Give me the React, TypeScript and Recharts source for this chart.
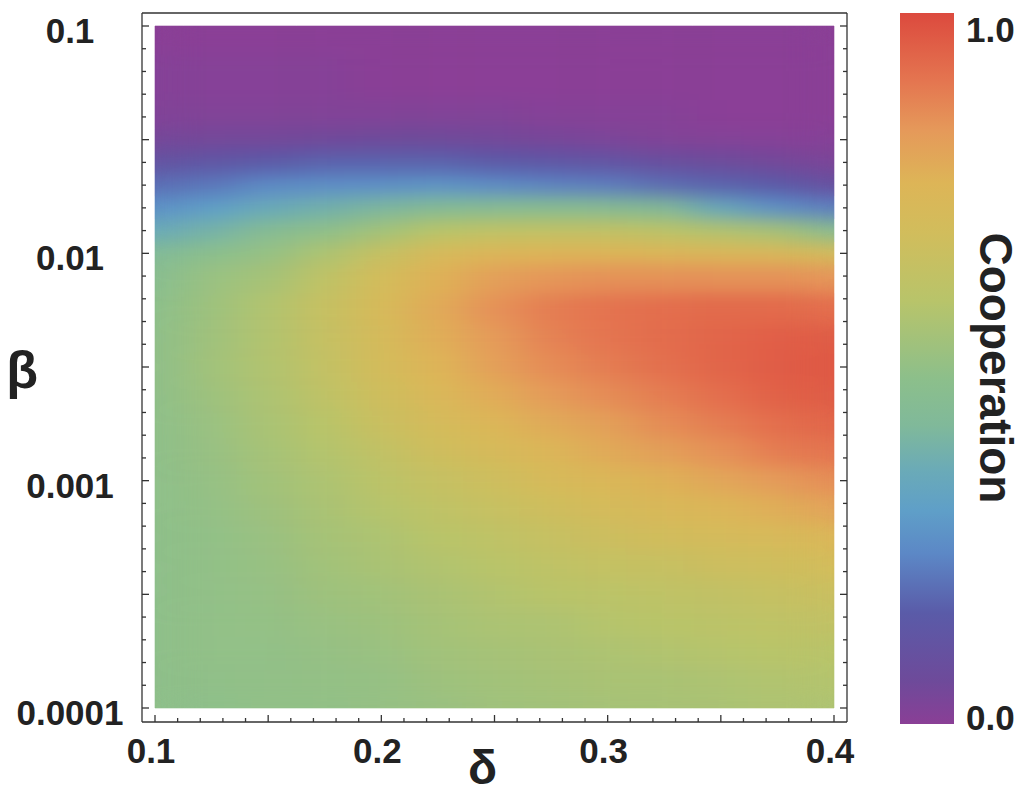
import React from "react";
import { ScatterChart, XAxis, YAxis, ReferenceArea } from "recharts";

// delta (x) grid and log10(beta) (y) grid the values were read at
const deltaCols = [0.1, 0.125, 0.15, 0.175, 0.2, 0.225, 0.25, 0.275, 0.3, 0.325, 0.35, 0.375, 0.4];
const logBetaRows = [
  -1, -1.25, -1.4, -1.5, -1.6, -1.7, -1.8, -1.9, -2, -2.1, -2.25, -2.375, -2.5, -2.625, -2.75,
  -2.875, -3, -3.125, -3.25, -3.375, -3.5, -3.625, -3.75, -3.875, -4,
];

// cooperation level, one array per beta row (top to bottom)
const coopB1000 = [0, 0, 0, 0, 0, 0, 0, 0, 0, 0, 0, 0, 0];
const coopB1250 = [0.01, 0.01, 0.01, 0.01, 0, 0, 0, 0, 0, 0, 0, 0, 0];
const coopB1400 = [0.02, 0.02, 0.02, 0.02, 0.02, 0.02, 0.02, 0.01, 0.01, 0.01, 0, 0, 0];
const coopB1500 = [0.045, 0.047, 0.05, 0.055, 0.06, 0.06, 0.05, 0.04, 0.03, 0.02, 0.015, 0.01, 0.01];
const coopB1600 = [0.11, 0.13, 0.15, 0.17, 0.17, 0.17, 0.15, 0.135, 0.12, 0.09, 0.07, 0.05, 0.03];
const coopB1700 = [0.19, 0.21, 0.245, 0.255, 0.26, 0.27, 0.25, 0.23, 0.22, 0.19, 0.17, 0.15, 0.09];
const coopB1800 = [0.26, 0.3, 0.35, 0.38, 0.41, 0.44, 0.45, 0.46, 0.45, 0.43, 0.34, 0.26, 0.22];
const coopB1900 = [0.35, 0.39, 0.45, 0.49, 0.54, 0.6, 0.62, 0.63, 0.63, 0.61, 0.58, 0.55, 0.45];
const coopB2000 = [0.43, 0.48, 0.51, 0.57, 0.65, 0.72, 0.75, 0.76, 0.76, 0.75, 0.74, 0.73, 0.7];
const coopB2100 = [0.46, 0.52, 0.55, 0.62, 0.7, 0.77, 0.82, 0.84, 0.85, 0.85, 0.85, 0.85, 0.84];
const coopB2250 = [0.48, 0.53, 0.58, 0.65, 0.72, 0.79, 0.85, 0.89, 0.91, 0.92, 0.93, 0.93, 0.92];
const coopB2375 = [0.49, 0.535, 0.58, 0.645, 0.71, 0.78, 0.83, 0.88, 0.905, 0.925, 0.94, 0.955, 0.96];
const coopB2500 = [0.49, 0.54, 0.58, 0.635, 0.7, 0.76, 0.815, 0.86, 0.89, 0.915, 0.94, 0.96, 0.97];
const coopB2625 = [0.49, 0.53, 0.57, 0.62, 0.68, 0.735, 0.785, 0.83, 0.86, 0.89, 0.92, 0.95, 0.96];
const coopB2750 = [0.49, 0.52, 0.56, 0.6, 0.66, 0.71, 0.75, 0.79, 0.82, 0.86, 0.89, 0.92, 0.94];
const coopB2875 = [0.49, 0.515, 0.55, 0.585, 0.63, 0.68, 0.715, 0.75, 0.79, 0.82, 0.85, 0.89, 0.91];
const coopB3000 = [0.49, 0.51, 0.54, 0.57, 0.61, 0.645, 0.675, 0.72, 0.745, 0.77, 0.8, 0.83, 0.86];
const coopB3125 = [0.49, 0.505, 0.53, 0.56, 0.59, 0.62, 0.65, 0.68, 0.71, 0.73, 0.75, 0.78, 0.81];
const coopB3250 = [0.49, 0.5, 0.52, 0.55, 0.57, 0.6, 0.62, 0.65, 0.67, 0.69, 0.71, 0.72, 0.75];
const coopB3375 = [0.49, 0.5, 0.515, 0.54, 0.56, 0.58, 0.6, 0.62, 0.64, 0.65, 0.67, 0.68, 0.7];
const coopB3500 = [0.49, 0.5, 0.51, 0.53, 0.54, 0.56, 0.58, 0.6, 0.61, 0.62, 0.63, 0.65, 0.66];
const coopB3625 = [0.49, 0.5, 0.505, 0.52, 0.53, 0.55, 0.565, 0.57, 0.59, 0.6, 0.61, 0.62, 0.63];
const coopB3750 = [0.49, 0.5, 0.5, 0.51, 0.52, 0.54, 0.55, 0.56, 0.57, 0.58, 0.59, 0.6, 0.6];
const coopB3875 = [0.49, 0.495, 0.5, 0.505, 0.51, 0.53, 0.54, 0.55, 0.56, 0.56, 0.57, 0.58, 0.585];
const coopB4000 = [0.49, 0.49, 0.5, 0.5, 0.51, 0.52, 0.535, 0.54, 0.55, 0.555, 0.56, 0.57, 0.57];

const coopRows = [
  coopB1000, coopB1250, coopB1400, coopB1500, coopB1600, coopB1700, coopB1800, coopB1900, coopB2000,
  coopB2100, coopB2250, coopB2375, coopB2500, coopB2625, coopB2750, coopB2875, coopB3000, coopB3125,
  coopB3250, coopB3375, coopB3500, coopB3625, coopB3750, coopB3875, coopB4000,
];

// colour bar stops (value, colour)
const colorStops: [number, string][] = [
  [0, "#8a3f96"],
  [0.06, "#6e4a9a"],
  [0.156, "#5a5ba8"],
  [0.24, "#5c88c6"],
  [0.3, "#5f9fc8"],
  [0.355, "#6aaab8"],
  [0.42, "#80b99a"],
  [0.485, "#8cbf8b"],
  [0.595, "#b8c46a"],
  [0.69, "#d1bd5c"],
  [0.76, "#ddb557"],
  [0.835, "#e5995a"],
  [0.905, "#e47550"],
  [1, "#dc4a3e"],
];

const xMajor = [0.1, 0.2, 0.3, 0.4];
const xLabels = ["0.1", "0.2", "0.3", "0.4"];
const yMajor = [0.1, 0.01, 0.001, 0.0001];
const yLabels = ["0.1", "0.01", "0.001", "0.0001"];
const barLabels = ["1.0", "0.0"];

const xTicks = Array.from({ length: 31 }, (_, i) => +(0.1 + i * 0.01).toFixed(2));
const yTicks = Array.from({ length: 31 }, (_, i) => Math.pow(10, -1 - i / 10));

const FONT = "'Liberation Sans', Arial, Helvetica, sans-serif";
const INK = "#333";

const hex = (h: string) => [1, 3, 5].map((i) => parseInt(h.slice(i, i + 2), 16));
const colorFor = (v: number) => {
  for (let i = 1; i < colorStops.length; i++) {
    const [v0, c0] = colorStops[i - 1];
    const [v1, c1] = colorStops[i];
    if (v <= v1) {
      const t = (v - v0) / (v1 - v0);
      const a = hex(c0);
      const b = hex(c1);
      const m = a.map((x, k) => Math.round(x + (b[k] - x) * t));
      return `rgb(${m[0]},${m[1]},${m[2]})`;
    }
  }
  return colorStops[colorStops.length - 1][1];
};

const spans = (arr: number[]) =>
  arr.map((v, i) => [
    i === 0 ? v : (arr[i - 1] + v) / 2,
    i === arr.length - 1 ? v : (v + arr[i + 1]) / 2,
  ]);

const colSpans = spans(deltaCols);
const rowSpans = spans(logBetaRows);

const cells = coopRows.flatMap((row, r) =>
  row.map((v, c) => ({
    key: `${r}-${c}`,
    x1: colSpans[c][0],
    x2: colSpans[c][1],
    y1: Math.pow(10, rowSpans[r][1]),
    y2: Math.pow(10, rowSpans[r][0]),
    fill: colorFor(v),
  }))
);

const near = (a: number, b: number) => Math.abs(Math.log10(a) - Math.log10(b)) < 1e-6;

const BottomTick = (p: any) => {
  const v = p.payload.value;
  const k = Math.round((v - 0.1) / 0.01);
  const idx = xMajor.findIndex((m) => Math.abs(m - v) < 1e-6);
  return (
    <g>
      <line x1={p.x} x2={p.x} y1={p.y} y2={p.y - (k % 5 === 0 ? 7 : 4)} stroke={INK} strokeWidth={1.3} />
      {idx >= 0 && (
        <text x={p.x - 4} y={p.y + 41} textAnchor="middle" fontFamily={FONT} fontWeight="bold" fontSize={35} fill="#222">
          {xLabels[idx]}
        </text>
      )}
    </g>
  );
};

const TopTick = (p: any) => {
  const k = Math.round((p.payload.value - 0.1) / 0.01);
  return <line x1={p.x} x2={p.x} y1={p.y} y2={p.y + (k % 5 === 0 ? 7 : 4)} stroke={INK} strokeWidth={1.3} />;
};

const LeftTick = (p: any) => {
  const v = p.payload.value;
  const k = Math.round((-1 - Math.log10(v)) * 10);
  const idx = yMajor.findIndex((m) => near(m, v));
  return (
    <g>
      <line x1={p.x} x2={p.x + (k % 5 === 0 ? 7 : 4)} y1={p.y} y2={p.y} stroke={INK} strokeWidth={1.3} />
      {idx >= 0 && (
        <text x={p.x - 72} y={p.y + 17} textAnchor="middle" fontFamily={FONT} fontWeight="bold" fontSize={35} fill="#222">
          {yLabels[idx]}
        </text>
      )}
    </g>
  );
};

const RightTick = (p: any) => {
  const k = Math.round((-1 - Math.log10(p.payload.value)) * 10);
  return <line x1={p.x} x2={p.x - (k % 5 === 0 ? 7 : 4)} y1={p.y} y2={p.y} stroke={INK} strokeWidth={1.3} />;
};

const ColorBar = () => (
  <svg width={1024} height={796} style={{ position: "absolute", left: 0, top: 0, pointerEvents: "none" }}>
    <defs>
      <linearGradient id="coopBar" x1="0" y1="1" x2="0" y2="0">
        {colorStops.map(([v, c]) => (
          <stop key={v} offset={v} stopColor={c} />
        ))}
      </linearGradient>
      {/* blur, then divide by coverage so the edges keep their colour */}
      <filter id="coopSmooth" x="0" y="0" width="1" height="1" colorInterpolationFilters="sRGB">
        <feGaussianBlur stdDeviation="20 9" />
        <feComponentTransfer>
          <feFuncA type="linear" slope="0" intercept="1" />
        </feComponentTransfer>
      </filter>
    </defs>
    <rect x={900} y={13} width={54} height={711} fill="url(#coopBar)" />
    <text x={966} y={42} fontFamily={FONT} fontWeight="bold" fontSize={35} fill="#222">{barLabels[0]}</text>
    <text x={966} y={730} fontFamily={FONT} fontWeight="bold" fontSize={35} fill="#222">{barLabels[1]}</text>
    <text
      x={980}
      y={368}
      transform="rotate(90 980 368)"
      textAnchor="middle"
      fontFamily={FONT}
      fontWeight="bold"
      fontSize={46}
      fill="#222"
    >
      Cooperation
    </text>
  </svg>
);

export default function App() {
  return (
    <div style={{ position: "absolute", left: 0, top: 0, width: 1024, height: 796, background: "#fff", fontFamily: FONT }}>
      <style>{`:has(> .coop-blur) { filter: url(#coopSmooth); }`}</style>
      <ScatterChart width={1024} height={796} margin={{ top: 8, right: 172, bottom: 8, left: 8 }}>
        <XAxis
          xAxisId="b"
          type="number"
          dataKey="x"
          domain={[0.1, 0.4]}
          ticks={xTicks}
          interval={0}
          tickSize={0}
          tickMargin={0}
          tickLine={false}
          tick={<BottomTick />}
          height={66}
          padding={{ left: 13, right: 13 }}
          allowDataOverflow
          axisLine={{ stroke: INK, strokeWidth: 1.3 }}
          label={{
            content: (p: any) => (
              <text
                x={p.viewBox.x + p.viewBox.width / 2 - 12}
                y={p.viewBox.y + 62}
                textAnchor="middle"
                fontFamily={FONT}
                fontWeight="bold"
                fontSize={48}
                fill="#222"
              >
                δ
              </text>
            ),
          }}
        />
        <XAxis
          xAxisId="t"
          orientation="top"
          type="number"
          domain={[0.1, 0.4]}
          ticks={xTicks}
          interval={0}
          tickSize={0}
          tickMargin={0}
          tickLine={false}
          tick={<TopTick />}
          height={5}
          padding={{ left: 13, right: 13 }}
          allowDataOverflow
          axisLine={{ stroke: INK, strokeWidth: 1.3 }}
        />
        <YAxis
          yAxisId="l"
          type="number"
          scale="log"
          dataKey="y"
          domain={[0.0001, 0.1]}
          ticks={yTicks}
          interval={0}
          tickSize={0}
          tickMargin={0}
          tickLine={false}
          tick={<LeftTick />}
          width={134}
          padding={{ top: 13, bottom: 14 }}
          allowDataOverflow
          axisLine={{ stroke: INK, strokeWidth: 1.3 }}
          label={{
            content: (p: any) => (
              <text
                x={p.viewBox.x + 14}
                y={p.viewBox.y + p.viewBox.height / 2 + 20}
                textAnchor="middle"
                fontFamily={FONT}
                fontWeight="bold"
                fontSize={52}
                fill="#222"
              >
                β
              </text>
            ),
          }}
        />
        <YAxis
          yAxisId="r"
          orientation="right"
          type="number"
          scale="log"
          domain={[0.0001, 0.1]}
          ticks={yTicks}
          interval={0}
          tickSize={0}
          tickMargin={0}
          tickLine={false}
          tick={<RightTick />}
          width={5}
          padding={{ top: 13, bottom: 14 }}
          allowDataOverflow
          axisLine={{ stroke: INK, strokeWidth: 1.3 }}
        />
        {cells.map((c) => (
          <ReferenceArea
            key={`base-${c.key}`}
            className="coop-base"
            zIndex={91}
            xAxisId="b"
            yAxisId="l"
            x1={c.x1}
            x2={c.x2}
            y1={c.y1}
            y2={c.y2}
            fill={c.fill}
            fillOpacity={1}
            stroke={c.fill}
            strokeWidth={0.6}
            ifOverflow="visible"
          />
        ))}
        <g>
          {cells.map((c) => (
            <ReferenceArea
              key={`blur-${c.key}`}
              className="coop-blur"
              zIndex={92}
              xAxisId="b"
              yAxisId="l"
              x1={c.x1}
              x2={c.x2}
              y1={c.y1}
              y2={c.y2}
              fill={c.fill}
              fillOpacity={1}
              stroke="none"
              ifOverflow="visible"
            />
          ))}
        </g>
      </ScatterChart>
      <ColorBar />
    </div>
  );
}
